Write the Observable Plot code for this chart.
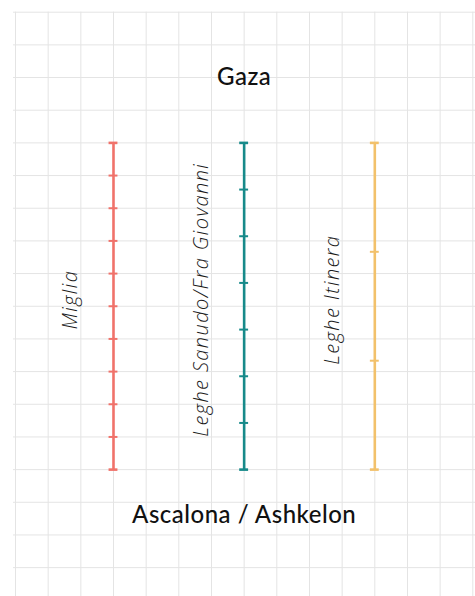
<!DOCTYPE html>
<html><head><meta charset="utf-8">
<script src="https://cdn.jsdelivr.net/npm/d3@7"></script>
<script src="https://cdn.jsdelivr.net/npm/@observablehq/plot@0.6"></script>
<style>body{margin:0;background:#fff}</style>
</head><body><div id="chart"></div>
<script>
// Units of measure compared along the same road (Gaza -> Ascalona)
const units = ["Miglia", "Leghe Sanudo/Fra Giovanni", "Leghe Itinera"];
const divisions = [10, 7, 3];
const colors = ["#F0726A", "#178A8A", "#F2C16B"];
const places = ["Gaza", "Ascalona / Ashkelon"];

const gridX = d3.range(-3, 12).map(k => k / 4);
const gridY = d3.range(-4, 14).map(k => k / 10);

const segments = units.map((u, i) => ({u, i}));
const ticks = units.flatMap((u, i) =>
  d3.range(divisions[i] + 1).map(j => ({u, i, y: j / divisions[i], end: j === 0 || j === divisions[i]})));
const half = 0.034;

const chart = Plot.plot({
  width: 475, height: 596, margin: 0,
  x: {domain: [-0.75, 2.75], range: [15, 472.3], axis: null},
  y: {domain: [-0.4, 1.4], range: [11.7, 599.8], axis: null},
  color: {domain: units, range: colors},
  style: {fontFamily: "'Open Sans', sans-serif", background: "white"},
  marks: [
    Plot.ruleX(gridX, {x: d => d, y1: -0.4, y2: 1.4, stroke: "#e4e4e4", strokeWidth: 1}),
    Plot.ruleY(gridY, {y: d => d, x1: -0.765, x2: 2.9, stroke: "#e4e4e4", strokeWidth: 1}),
    Plot.ruleX(segments, {x: "i", y1: 0, y2: 1, stroke: "u", strokeWidth: 2.6}),
    Plot.ruleY(ticks, {y: "y", x1: d => d.i - half, x2: d => d.i + half, stroke: "u", strokeWidth: d => d.end ? 2.6 : 2}),
    Plot.text(units, {x: (d, i) => i, y: 0.48, text: d => d, rotate: -90, dx: -36, lineAnchor: "bottom",
      fontStyle: "italic", fontSize: 20, fontWeight: 300, fill: "#1a1a1a"}),
    Plot.text([places[0]], {x: 1, y: -0.2, text: d => d, fontSize: 24, fontWeight: 500, fontFamily: "Lato, sans-serif", fill: "#111"}),
    Plot.text([places[1]], {x: 1, y: 1.14, text: d => d, fontSize: 24, fontWeight: 500, fontFamily: "Lato, sans-serif", fill: "#111"})
  ]
});
const svgText = d3.select(chart).selectAll("text");
svgText.filter(function() { return units.includes(this.textContent); })
  .style("letter-spacing", "1.4px");
svgText.filter(function() { return places.includes(this.textContent); })
  .style("letter-spacing", "0.5px");
document.getElementById("chart").appendChild(chart);
</script>
</body></html>
